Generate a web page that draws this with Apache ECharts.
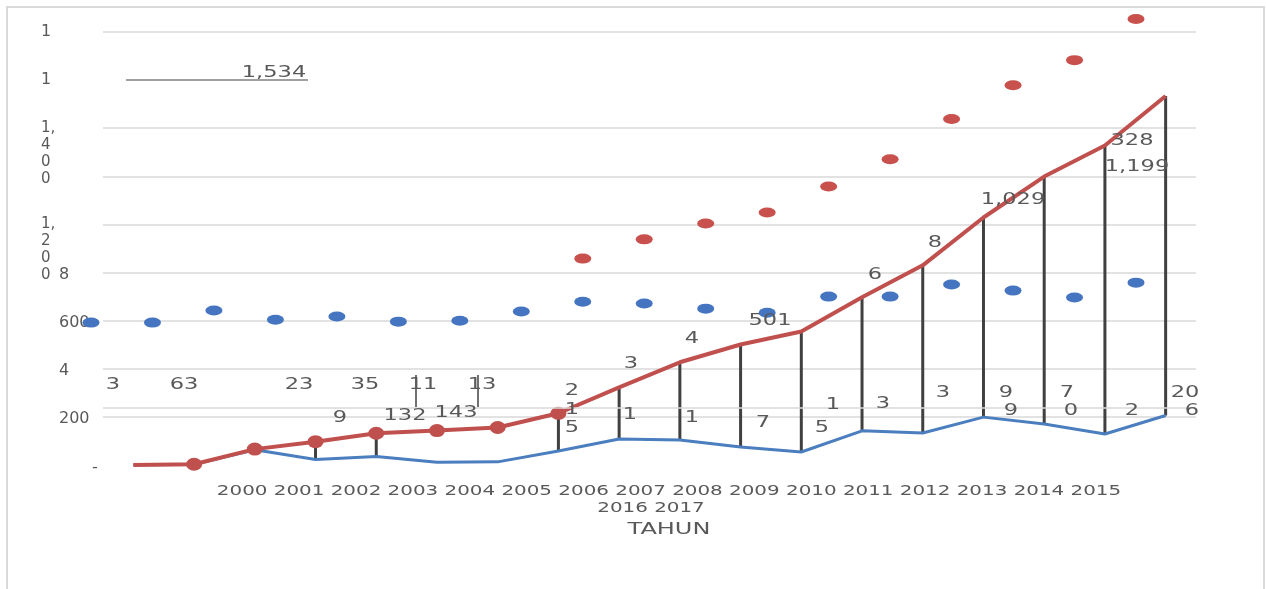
<!DOCTYPE html>
<html>
<head>
<meta charset="utf-8">
<script src="https://cdn.jsdelivr.net/npm/echarts@6/dist/echarts.min.js"></script>
<style>
  html, body { margin: 0; padding: 0; background: #fff; }
  #chart { width: 1266px; height: 589px; }
</style>
</head>
<body>
<div id="chart"></div>
<script>
// Years on the category axis
const years = ['2000', '2001', '2002', '2003', '2004', '2005', '2006', '2007', '2008',
               '2009', '2010', '2011', '2012', '2013', '2014', '2015', '2016', '2017'];
// Count per year (blue line)
const annual = [0, 3, 63, 23, 35, 11, 13, 58, 108, 104, 75, 54, 142, 133, 199, 170, 129, 206];
// Running total (red line)
const cumulative = [0, 3, 66, 97, 132, 143, 156, 215, 323, 427, 501, 555, 697, 830, 1029, 1199, 1328, 1534];
// Loose markers of the two series
const blueDots = [592, 592, 642, 604, 617, 596, 600, 638, 679, 671, 650, 633, 700, 700, 750, 725, 696, 758];
const redDots = [null, null, null, null, null, null, null, null, 858, 938, 1004, 1050, 1158, 1271, 1438, 1579, 1683, 1854];
// Value-axis ticks and their printed labels
const yTicks = [0, 200, 400, 600, 800, 1000, 1200, 1400, 1600, 1800];
const yTickLabels = ['-', '200', '4', '600', '8', '1,\n2\n0\n0', '', '1,\n4\n0\n0', '1', '1'];
// Years that carry a round marker on the running total
const markerIdx = [1, 2, 3, 4, 5, 6, 7];
// Years joined by a high-low line
const dropIdx = [3, 4, 7, 8, 9, 10, 11, 12, 13, 14, 15, 16, 17];
// Extra horizontal reference line
const refLine = 237.5;

const FONT = 'DejaVu Sans';
const TXT = '#595959';
const RED = '#c0504d';
const BLUE = '#4a7ebf';
const fmt = v => v.toLocaleString('en-US');

// Scattered value labels (text, centre x, centre y)
const labelSpots = [
  [fmt(cumulative[17]), 274, 73],
  [String(annual[1]), 113, 385],
  [String(annual[2]), 184, 385],
  [String(annual[3]), 299, 385],
  [String(annual[4]), 365, 385],
  [String(annual[5]), 423, 385],
  [String(annual[6]), 482, 385],
  ['9', 340, 418],
  [String(cumulative[4]), 405, 416],
  [String(cumulative[5]), 456, 413],
  ['2', 572, 391], ['1', 572, 410], ['5', 572, 428],
  ['1', 630, 415], ['3', 631, 364],
  ['1', 692, 418], ['4', 692, 339],
  ['7', 763, 423], [String(cumulative[10]), 770, 321],
  ['5', 822, 428], ['1', 833, 405],
  ['6', 875, 275], ['3', 883, 404],
  ['8', 935, 243], ['3', 943, 393],
  [fmt(cumulative[14]), 1013, 200],
  ['9', 1006, 393], ['9', 1011, 411],
  ['7', 1067, 393], ['0', 1071, 411],
  ['2', 1132, 411],
  [fmt(cumulative[15]), 1137, 167],
  [String(cumulative[16]).slice(-3), 1132, 141],
  ['20', 1185, 393], ['6', 1192, 411]
];

function textEl(t, x, y, size, sx) {
  return {
    type: 'text', x: x, y: y, scaleX: sx, silent: true, z: 50,
    style: {
      text: t, fill: TXT, fontSize: size, fontFamily: FONT,
      textAlign: 'center', textVerticalAlign: 'middle',
      align: 'center', verticalAlign: 'middle'
    }
  };
}

const graphics = [
  { type: 'rect', silent: true, z: -1,
    shape: { x: 7, y: 7, width: 1257, height: 620 },
    style: { fill: 'none', stroke: '#d9d9d9', lineWidth: 2 } },
  { type: 'line', silent: true, shape: { x1: 126, y1: 80, x2: 308, y2: 80 },
    style: { stroke: '#808080', lineWidth: 1.5 } },
  { type: 'line', silent: true, shape: { x1: 416, y1: 375, x2: 416, y2: 407 },
    style: { stroke: '#404040', lineWidth: 1.5 } },
  { type: 'line', silent: true, shape: { x1: 478, y1: 375, x2: 478, y2: 407 },
    style: { stroke: '#404040', lineWidth: 1.5 } }
];
labelSpots.forEach(s => graphics.push(textEl(s[0], s[1], s[2], 15, 1.5)));
graphics.push(textEl(years.slice(0, 16).join(' '), 669, 491, 14, 1.42));
graphics.push(textEl(years.slice(16).join(' '), 651, 508, 14, 1.42));
graphics.push(textEl('TAHUN', 669, 530, 16, 1.5));

const splitColors = yTicks.map(v => (v === 0 || v === 1600) ? 'rgba(0,0,0,0)' : '#d9d9d9');
const labelOf = v => yTickLabels[yTicks.indexOf(v)] || '';

const chart = echarts.init(document.getElementById('chart'), null, { renderer: 'canvas' });
chart.setOption({
  animation: false,
  backgroundColor: '#fff',
  grid: [
    { left: 103, right: 70, top: 32, bottom: 124, outerBoundsMode: 'none', containLabel: false },
    { left: 91, right: 130, top: 32, bottom: 124, outerBoundsMode: 'none', containLabel: false }
  ],
  xAxis: [
    { type: 'category', gridIndex: 0, data: years, boundaryGap: true,
      axisLine: { show: false }, axisTick: { show: false }, axisLabel: { show: false },
      splitLine: { show: false } },
    { type: 'category', gridIndex: 1, data: years, boundaryGap: false, show: false }
  ],
  yAxis: [
    { type: 'value', gridIndex: 0, min: 0, max: 1800, interval: 200,
      axisLine: { show: false }, axisTick: { show: false },
      splitLine: { show: true, lineStyle: { color: splitColors, width: 1.5 } },
      axisLabel: {
        align: 'left', margin: 62, color: TXT, fontFamily: FONT, fontSize: 16,
        formatter: v => {
          const t = labelOf(v);
          if (t.indexOf('\n') >= 0 || t === '') return '';
          if (v === 0) return '{d|' + t + '}';
          if (v >= 1600) return t;
          return '{i|' + t + '}';
        },
        rich: {
          i: { padding: [4, 0, 0, 18], color: TXT, fontFamily: FONT, fontSize: 16 },
          d: { padding: [6, 0, 0, 51], color: TXT, fontFamily: FONT, fontSize: 16 }
        }
      } },
    { type: 'value', gridIndex: 0, min: 0, max: 1800, interval: 200, position: 'left',
      axisLine: { show: false }, axisTick: { show: false }, splitLine: { show: false },
      axisLabel: {
        align: 'left', verticalAlign: 'middle', margin: 62, lineHeight: 17,
        color: TXT, fontFamily: FONT, fontSize: 15,
        formatter: v => {
          const t = labelOf(v);
          return t.indexOf('\n') >= 0 ? '\n\n\n' + t : '';
        }
      } },
    { type: 'value', gridIndex: 1, min: 0, max: 1800, interval: 200, show: false }
  ],
  series: [
    {
      type: 'custom', name: 'high-low', xAxisIndex: 0, yAxisIndex: 0, z: 1, silent: true,
      data: dropIdx.map(i => [i, annual[i], cumulative[i]]),
      encode: { x: 0, y: [1, 2] },
      renderItem: (params, api) => {
        const a = api.coord([api.value(0), api.value(1)]);
        const b = api.coord([api.value(0), api.value(2)]);
        return { type: 'line', shape: { x1: a[0], y1: a[1], x2: b[0], y2: b[1] },
                 style: { stroke: '#404040', lineWidth: 3 } };
      }
    },
    {
      type: 'line', name: 'annual', xAxisIndex: 0, yAxisIndex: 0, z: 2, silent: true,
      data: annual, showSymbol: false, color: BLUE,
      lineStyle: { color: BLUE, width: 3 },
      markLine: {
        silent: true, symbol: 'none', label: { show: false },
        lineStyle: { color: '#d9d9d9', type: 'solid', width: 1.5 },
        data: [{ yAxis: refLine }]
      }
    },
    {
      type: 'line', name: 'cumulative', xAxisIndex: 0, yAxisIndex: 0, z: 3, silent: true,
      showSymbol: true, showAllSymbol: true, symbolSize: [16, 13], color: RED,
      itemStyle: { color: RED, opacity: 1 },
      lineStyle: { color: RED, width: 4 },
      data: cumulative.map((v, i) => ({ value: v, symbol: markerIdx.indexOf(i) >= 0 ? 'circle' : 'none' }))
    },
    {
      type: 'scatter', xAxisIndex: 1, yAxisIndex: 2, z: 4, silent: true, clip: false,
      symbol: 'circle', symbolSize: [17, 10], itemStyle: { color: '#4575c0', opacity: 1 },
      data: blueDots
    },
    {
      type: 'scatter', xAxisIndex: 1, yAxisIndex: 2, z: 4, silent: true, clip: false,
      symbol: 'circle', symbolSize: [17, 10], itemStyle: { color: '#c8504d', opacity: 1 },
      data: redDots
    }
  ],
  graphic: graphics
});
</script>
</body>
</html>
